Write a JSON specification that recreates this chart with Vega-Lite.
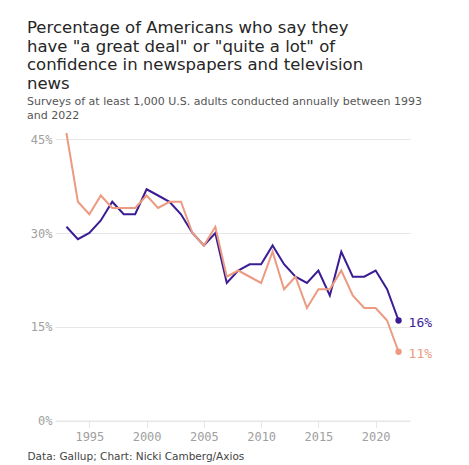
{
  "$schema": "https://vega.github.io/schema/vega-lite/v6.json",
  "width": 355,
  "height": 287.5,
  "padding": {"left": 27, "top": 19, "right": 10, "bottom": 2},
  "background": "white",
  "title": {
    "text": ["Percentage of Americans who say they", "have \"a great deal\" or \"quite a lot\" of", "confidence in newspapers and television", "news"],
    "subtitle": ["Surveys of at least 1,000 U.S. adults conducted annually between 1993", "and 2022"],
    "anchor": "start",
    "frame": "bounds",
    "font": "DejaVu Sans",
    "fontSize": 16.5,
    "fontWeight": "normal",
    "lineHeight": 18.7,
    "color": "#262626",
    "subtitleFont": "DejaVu Sans",
    "subtitleFontSize": 11,
    "subtitleColor": "#555555",
    "subtitleLineHeight": 14.5,
    "subtitlePadding": 3,
    "offset": 8
  },
  "data": {
    "values": [
      {"year": 1993, "series": "Newspapers", "value": 31}, {"year": 1994, "series": "Newspapers", "value": 29},
      {"year": 1995, "series": "Newspapers", "value": 30}, {"year": 1996, "series": "Newspapers", "value": 32},
      {"year": 1997, "series": "Newspapers", "value": 35}, {"year": 1998, "series": "Newspapers", "value": 33},
      {"year": 1999, "series": "Newspapers", "value": 33}, {"year": 2000, "series": "Newspapers", "value": 37},
      {"year": 2001, "series": "Newspapers", "value": 36}, {"year": 2002, "series": "Newspapers", "value": 35},
      {"year": 2003, "series": "Newspapers", "value": 33}, {"year": 2004, "series": "Newspapers", "value": 30},
      {"year": 2005, "series": "Newspapers", "value": 28}, {"year": 2006, "series": "Newspapers", "value": 30},
      {"year": 2007, "series": "Newspapers", "value": 22}, {"year": 2008, "series": "Newspapers", "value": 24},
      {"year": 2009, "series": "Newspapers", "value": 25}, {"year": 2010, "series": "Newspapers", "value": 25},
      {"year": 2011, "series": "Newspapers", "value": 28}, {"year": 2012, "series": "Newspapers", "value": 25},
      {"year": 2013, "series": "Newspapers", "value": 23}, {"year": 2014, "series": "Newspapers", "value": 22},
      {"year": 2015, "series": "Newspapers", "value": 24}, {"year": 2016, "series": "Newspapers", "value": 20},
      {"year": 2017, "series": "Newspapers", "value": 27}, {"year": 2018, "series": "Newspapers", "value": 23},
      {"year": 2019, "series": "Newspapers", "value": 23}, {"year": 2020, "series": "Newspapers", "value": 24},
      {"year": 2021, "series": "Newspapers", "value": 21}, {"year": 2022, "series": "Newspapers", "value": 16},
      {"year": 1993, "series": "Television news", "value": 46}, {"year": 1994, "series": "Television news", "value": 35},
      {"year": 1995, "series": "Television news", "value": 33}, {"year": 1996, "series": "Television news", "value": 36},
      {"year": 1997, "series": "Television news", "value": 34}, {"year": 1998, "series": "Television news", "value": 34},
      {"year": 1999, "series": "Television news", "value": 34}, {"year": 2000, "series": "Television news", "value": 36},
      {"year": 2001, "series": "Television news", "value": 34}, {"year": 2002, "series": "Television news", "value": 35},
      {"year": 2003, "series": "Television news", "value": 35}, {"year": 2004, "series": "Television news", "value": 30},
      {"year": 2005, "series": "Television news", "value": 28}, {"year": 2006, "series": "Television news", "value": 31},
      {"year": 2007, "series": "Television news", "value": 23}, {"year": 2008, "series": "Television news", "value": 24},
      {"year": 2009, "series": "Television news", "value": 23}, {"year": 2010, "series": "Television news", "value": 22},
      {"year": 2011, "series": "Television news", "value": 27}, {"year": 2012, "series": "Television news", "value": 21},
      {"year": 2013, "series": "Television news", "value": 23}, {"year": 2014, "series": "Television news", "value": 18},
      {"year": 2015, "series": "Television news", "value": 21}, {"year": 2016, "series": "Television news", "value": 21},
      {"year": 2017, "series": "Television news", "value": 24}, {"year": 2018, "series": "Television news", "value": 20},
      {"year": 2019, "series": "Television news", "value": 18}, {"year": 2020, "series": "Television news", "value": 18},
      {"year": 2021, "series": "Television news", "value": 16}, {"year": 2022, "series": "Television news", "value": 11}
    ]
  },
  "encoding": {
    "x": {
      "field": "year", "type": "quantitative",
      "scale": {"domain": [1992, 2023], "nice": false, "zero": false},
      "axis": {
        "values": [1995, 2000, 2005, 2010, 2015, 2020],
        "format": "d",
        "grid": false,
        "domain": true,
        "domainColor": "#e6e6e6",
        "ticks": true,
        "tickColor": "#e6e6e6",
        "tickSize": 7,
        "labelFont": "DejaVu Sans Mono",
        "labelFontSize": 12,
        "labelColor": "#a0a0a0",
        "labelPadding": 4,
        "title": "Data: Gallup; Chart: Nicki Camberg/Axios",
        "titleFont": "DejaVu Sans",
        "titleFontSize": 10.5,
        "titleFontWeight": "normal",
        "titleColor": "#444444",
        "titleAnchor": "start",
        "titleAlign": "left",
        "titleBaseline": "middle",
        "titleX": -28,
        "titleY": 36
      }
    },
    "y": {
      "field": "value", "type": "quantitative",
      "scale": {"domain": [0, 46], "nice": false},
      "axis": {
        "values": [0, 15, 30, 45],
        "labelExpr": "datum.value + '%'",
        "domain": false,
        "ticks": false,
        "grid": true,
        "gridColor": "#e6e6e6",
        "labelFont": "DejaVu Sans Mono",
        "labelFontSize": 12,
        "labelColor": "#a0a0a0",
        "labelPadding": 3,
        "title": null
      }
    },
    "color": {
      "field": "series", "type": "nominal",
      "scale": {"domain": ["Newspapers", "Television news"], "range": ["#3a1d94", "#ec9a80"]},
      "legend": null
    }
  },
  "layer": [
    {
      "mark": {"type": "line", "strokeWidth": 2, "strokeJoin": "miter"},
      "encoding": {"order": {"field": "series", "sort": "descending"}}
    },
    {
      "transform": [{"filter": "datum.year == 2022"}],
      "mark": {"type": "circle", "size": 40, "opacity": 1}
    },
    {
      "transform": [{"filter": "datum.year == 2022"}, {"calculate": "datum.value + '%'", "as": "label"}],
      "mark": {"type": "text", "align": "left", "dx": 10, "dy": 2, "font": "DejaVu Sans Mono", "fontSize": 13},
      "encoding": {"text": {"field": "label", "type": "nominal"}}
    }
  ],
  "config": {"view": {"stroke": null}}
}
